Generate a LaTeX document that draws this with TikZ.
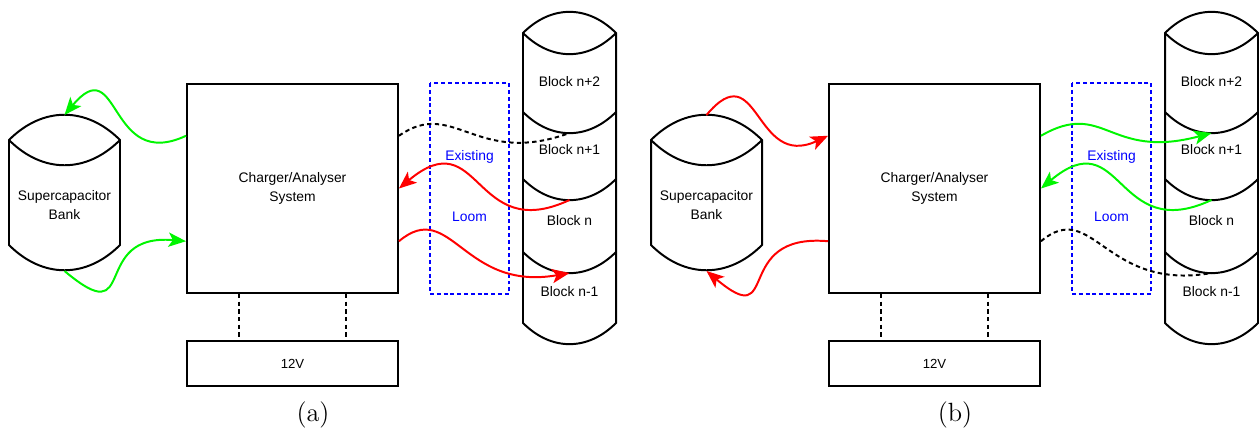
\documentclass[tikz,border=0pt]{standalone}
\usepackage{fontspec}
\setsansfont{Liberation Sans}
\usetikzlibrary{arrows.meta,calc}

\definecolor{wirered}{RGB}{255,0,0}
\definecolor{wiregreen}{RGB}{0,245,0}
\definecolor{loomblue}{RGB}{0,0,255}

% drum outline: left x, right x, top y, bottom y
\newcommand{\drum}[4]{%
	\draw[edge] (#1,#3) to[out=45,in=135,looseness=1.1] (#2,#3) -- (#2,#4)
		to[out=-135,in=-45,looseness=1.1] (#1,#4) -- cycle;
	\draw[edge] (#1,#3) to[out=-45,in=-135,looseness=1.1] (#2,#3);
}
% one joint between two blocks of the stack
\newcommand{\joint}[1]{\draw[edge] (523,#1) to[out=-45,in=-135,looseness=1.1] (616,#1);}

% parts shared by both setups
\newcommand{\panelbase}{%
	% supercapacitor bank
	\drum{9}{120}{140}{245}
	\node[lbl] (cap) at (64.5,205) {Supercapacitor\\Bank};
	\coordinate (captop) at (64.5,115);
	\coordinate (capbot) at (64.5,271);
	% charger and 12V supply
	\node[unit] (chg) at (292.5,188.5) {Charger/Analyser\\System};
	\node[unit,minimum height=0.72cm,font=\sffamily\fontsize{6}{7}\selectfont] (supply) at (292.5,363.5) {12V};
	\draw[link] ($(chg.south west)!.25!(chg.south east)$) -- ($(supply.north west)!.25!(supply.north east)$);
	\draw[link] ($(chg.south west)!.75!(chg.south east)$) -- ($(supply.north west)!.75!(supply.north east)$);
	\coordinate (chgL1) at ($(chg.north west)!.25!(chg.south west)$);
	\coordinate (chgL3) at ($(chg.north west)!.75!(chg.south west)$);
	\coordinate (chgR1) at ($(chg.north east)!.25!(chg.south east)$);
	\coordinate (chgR2) at ($(chg.north east)!.5!(chg.south east)$);
	\coordinate (chgR3) at ($(chg.north east)!.75!(chg.south east)$);
	% existing loom
	\draw[loom] (430,83) rectangle (509,294);
	\node[lbl,text=loomblue] (exist) at (469.5,157) {Existing};
	\node[lbl,text=loomblue] (loomtxt) at (469.5,217) {Loom};
	% block stack
	\drum{523}{616}{33}{323}
	\foreach \y in {112,179,252} {\joint{\y}}
	\node[lbl] (blk2) at (569.5,82) {Block n+2};
	\node[lbl] (blk1) at (569.5,150) {Block n+1};
	\node[lbl] (blk0) at (569.5,221) {Block n};
	\node[lbl] (blkm) at (569.5,292) {Block n-1};
	\coordinate (dip1) at (569.5,133);
	\coordinate (dip0) at (569.5,200);
	\coordinate (dipm) at (569.5,273);
}

\begin{document}
\begin{tikzpicture}[
	x=0.016cm,y=-0.016cm,
	edge/.style={line width=0.9pt},
	unit/.style={draw,line width=0.9pt,inner sep=0pt,minimum width=3.376cm,minimum height=3.344cm,
		align=center,font=\sffamily\fontsize{6.3}{8.8}\selectfont},
	lbl/.style={inner sep=0pt,align=center,font=\sffamily\fontsize{6.3}{8.8}\selectfont},
	link/.style={line width=0.9pt,dash pattern=on 2pt off 1.5pt},
	loom/.style={loomblue,line width=0.9pt,dash pattern=on 1.8pt off 1.3pt},
	feed/.style={line width=0.9pt,-{Stealth[length=8pt,width=6.5pt,inset=2pt]}},
	tag/.style={font=\large}
	]
	\useasboundingbox (0,0) rectangle (1259,434);

	% (a) bank charged from the charger
	\begin{scope}[name prefix=a-]
		\panelbase
		\draw[feed,wiregreen] (chgL1) to[out=205,in=50,looseness=1.8] (captop);
		\draw[feed,wiregreen] (capbot) to[out=-40,in=175,looseness=2] (chgL3);
		\draw[link] (chgR1) to[out=35,in=200,out looseness=1,in looseness=1.5] (dip1);
		\draw[feed,wirered] (dip0) to[out=205,in=40,looseness=1.6] (chgR2);
		\draw[feed,wirered] (chgR3) to[out=40,in=190,out looseness=1,in looseness=1.6] (dipm);
		\node[tag] (tag) at (313,415) {(a)};
	\end{scope}

	% (b) bank feeding the charger
	\begin{scope}[shift={(642,0)},name prefix=b-]
		\panelbase
		\draw[feed,wirered] (captop) to[out=50,in=205,looseness=1.7] (chgL1);
		\draw[feed,wirered] (chgL3) to[out=175,in=-40,looseness=2] (capbot);
		\draw[feed,wiregreen] (chgR1) to[out=30,in=195,out looseness=1.1,in looseness=1.6] (dip1);
		\draw[feed,wiregreen] (dip0) to[out=205,in=40,looseness=1.6] (chgR2);
		\draw[link] (chgR3) to[out=40,in=190,out looseness=1,in looseness=1.6] (dipm);
		\node[tag] (tag) at (313,415) {(b)};
	\end{scope}
\end{tikzpicture}
\end{document}
